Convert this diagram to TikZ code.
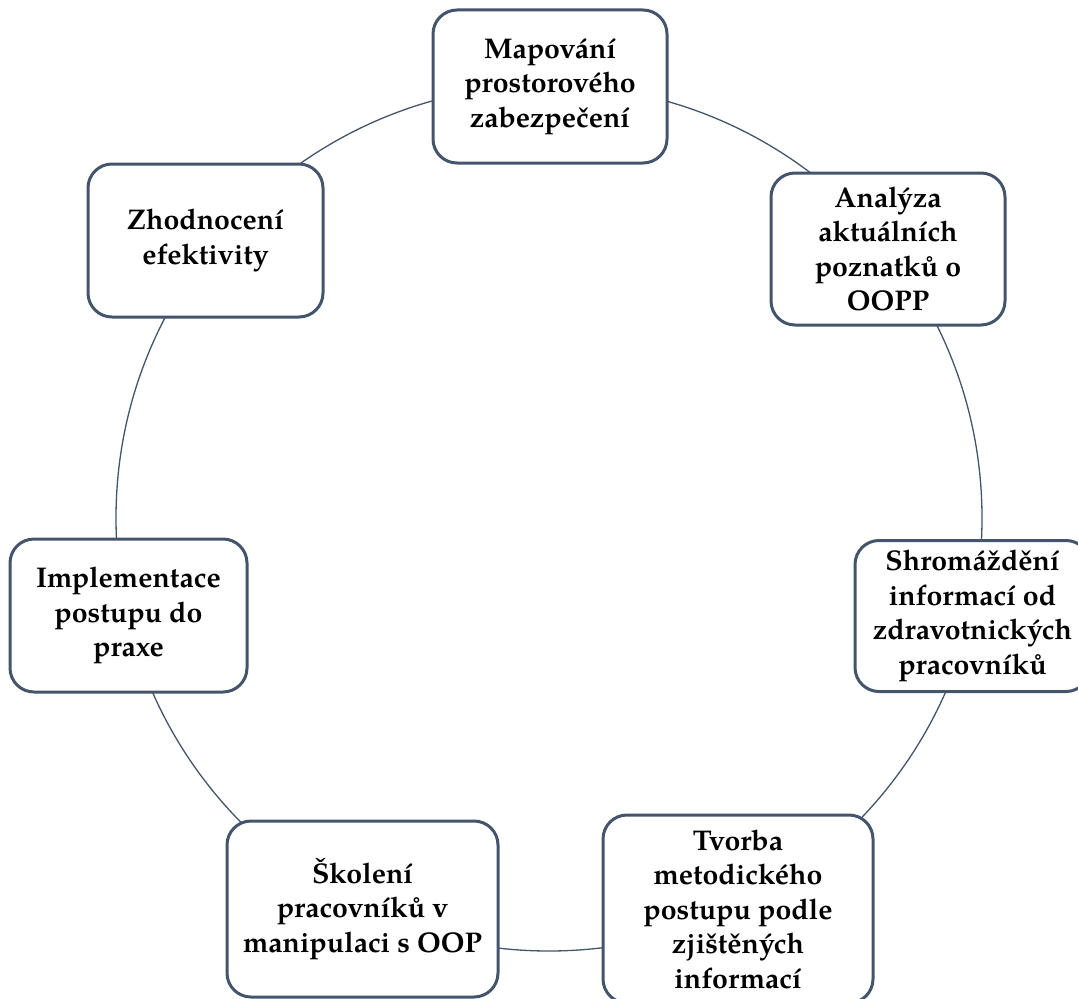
\documentclass[tikz,border=0pt]{standalone}
\usepackage{fontspec}
\setmainfont{texgyrepagella}[Extension=.otf, UprightFont=*-regular, BoldFont=*-bold]
\definecolor{frame}{HTML}{44546A}
\begin{document}
\begin{tikzpicture}[x=1pt, y=-1pt,
  stage/.style={draw=frame, line width=3pt, fill=white, rounded corners=24pt,
    inner sep=0pt, align=center, text=black,
    font=\fontsize{28.5}{34.5}\selectfont\bfseries},
  ring/.style={draw=frame, line width=1.3pt}]
\useasboundingbox (0,0) rectangle (1078,998);

% the cycle ring behind the stages
\coordinate (hub) at (549,518);
\draw[ring] (hub) circle[radius=433pt];

% stages of the cycle, clockwise from the top
\node[stage, minimum width=234pt, minimum height=153pt] (map) at (550,86.5)
  {Mapování\\prostorového\\zabezpečení};
\node[stage, minimum width=234pt, minimum height=152pt] (ana) at (888,249)
  {Analýza\\aktuálních\\poznatků o\\OOPP};
\node[stage, minimum width=235pt, minimum height=151pt] (sbr) at (972.5,616)
  {Shromáždění\\informací od\\zdravotnických\\pracovníků};
\node[stage, minimum width=270pt, minimum height=188pt] (tvo) at (738,909)
  {Tvorba\\metodického\\postupu podle\\zjištěných\\informací};
\node[stage, minimum width=271pt, minimum height=176pt] (sko) at (362.5,909)
  {Školení\\pracovníků v\\manipulaci s OOP};
\node[stage, minimum width=237pt, minimum height=153pt] (imp) at (128.5,615.5)
  {Implementace\\postupu do\\praxe};
\node[stage, minimum width=235pt, minimum height=153pt] (zho) at (205.5,240.5)
  {Zhodnocení\\efektivity};
\end{tikzpicture}
\end{document}
